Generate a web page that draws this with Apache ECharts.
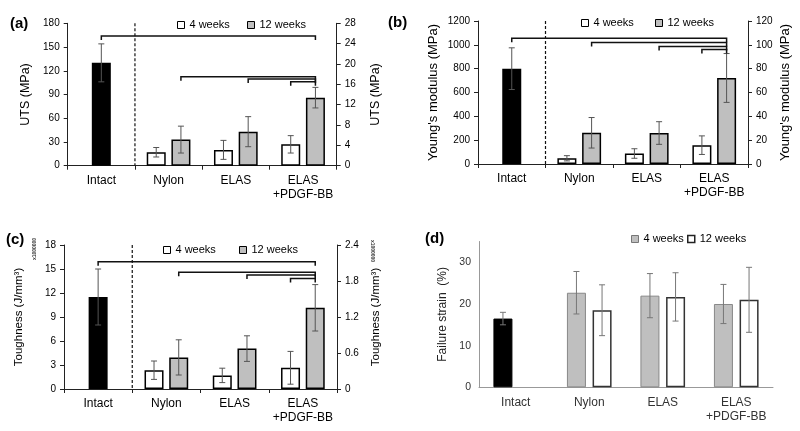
<!DOCTYPE html>
<html>
<head>
<meta charset="utf-8">
<script src="https://cdn.jsdelivr.net/npm/echarts@6/dist/echarts.min.js"></script>
<style>
  html, body { margin: 0; padding: 0; background: #fff; }
  #chart { width: 800px; height: 431px; }
</style>
</head>
<body>
<div id="chart"></div>
<script>
const categories = ['Intact', 'Nylon', 'ELAS', 'ELAS\n+PDGF-BB'];

// (a) UTS
const utsIntact = [130, '-', '-', '-'];
const utsIntactSd = [24, 0, 0, 0];
const uts4 = ['-', 17, 20, 27];
const uts4Sd = [0, 6, 12, 11];
const uts12 = ['-', 33, 43, 86];
const uts12Sd = [0, 17, 19, 13];
const utsTicks = [0, 30, 60, 90, 120, 150, 180];
const utsRightTicks = [0, 4, 8, 12, 16, 20, 24, 28];
// [fromCategory, fromSlot, toCategory, toSlot, height]
const utsBrackets = [[0, 0, 3, 1, 164], [1, 1, 3, 1, 112.5], [2, 1, 3, 1, 109.5], [3, -1, 3, 1, 106]];

// (b) Young's modulus
const ymIntact = [800, '-', '-', '-'];
const ymIntactSd = [175, 0, 0, 0];
const ym4 = ['-', 48, 88, 158];
const ym4Sd = [0, 22, 40, 78];
const ym12 = ['-', 262, 260, 722];
const ym12Sd = [0, 128, 95, 205];
const ymTicks = [0, 200, 400, 600, 800, 1000, 1200];
const ymRightTicks = [0, 20, 40, 60, 80, 100, 120];
const ymBrackets = [[0, 0, 3, 1, 1055], [1, 1, 3, 1, 1020], [2, 1, 3, 1, 985], [3, -1, 3, 1, 960]];

// (c) Toughness
const tgIntact = [11.5, '-', '-', '-'];
const tgIntactSd = [3.5, 0, 0, 0];
const tg4 = ['-', 2.35, 1.7, 2.65];
const tg4Sd = [0, 1.15, 0.9, 2.05];
const tg12 = ['-', 3.95, 5.05, 10.15];
const tg12Sd = [0, 2.2, 1.6, 2.9];
const tgTicks = [0, 3, 6, 9, 12, 15, 18];
const tgRightTicks = [0, 0.6, 1.2, 1.8, 2.4];
const tgBrackets = [[0, 0, 3, 1, 15.9], [1, 1, 3, 1, 14.6], [2, 1, 3, 1, 14.25], [3, -1, 3, 1, 13.8]];

// (d) Failure strain
const fsIntact = [16.5];
const fsIntactSd = [1.5];
const fs4 = ['-', 22.7, 22, 20];
const fs4Sd = [0, 5.1, 5.3, 4.7];
const fs12 = ['-', 18.5, 21.7, 21];
const fs12Sd = [0, 6.1, 5.8, 7.8];
const fsTicks = [0, 10, 20, 30];
const fsMax = 35;

const FONT = '"Liberation Sans", Arial, sans-serif';
const GRAY = '#bfbfbf';

const option = {
  animation: false,
  backgroundColor: '#fff',
  textStyle: { fontFamily: FONT },
  grid: [], xAxis: [], yAxis: [], series: [], legend: [], title: [], graphic: []
};

function errData(vals, sds, slot) {
  let out = [];
  vals.forEach((v, i) => {
    if (v !== '-') out.push([i, v, sds[i], slot]);
  });
  return out;
}

function errorSeries(xIdx, yIdx, data, offset, color) {
  return {
    type: 'custom', xAxisIndex: xIdx, yAxisIndex: yIdx, z: 5, silent: true,
    data: data,
    renderItem(params, api) {
      let i = api.value(0), v = api.value(1), sd = api.value(2), slot = api.value(3);
      let x = api.coord([i, v])[0] + slot * offset;
      let yt = api.coord([i, v + sd])[1];
      let yb = api.coord([i, v - sd])[1];
      let st = { stroke: color, lineWidth: 1 };
      return {
        type: 'group',
        children: [
          { type: 'line', shape: { x1: x, y1: yt, x2: x, y2: yb }, style: st },
          { type: 'line', shape: { x1: x - 3, y1: yt, x2: x + 3, y2: yt }, style: st },
          { type: 'line', shape: { x1: x - 3, y1: yb, x2: x + 3, y2: yb }, style: st }
        ]
      };
    }
  };
}

function bracketSeries(xIdx, yIdx, data, offset) {
  return {
    type: 'custom', xAxisIndex: xIdx, yAxisIndex: yIdx, z: 6, silent: true,
    data: data,
    renderItem(params, api) {
      let h = api.value(4);
      let p1 = api.coord([api.value(0), h]);
      let p2 = api.coord([api.value(2), h]);
      let x1 = p1[0] + api.value(1) * offset;
      let x2 = p2[0] + api.value(3) * offset;
      let y = p1[1];
      return {
        type: 'polyline',
        shape: { points: [[x1, y + 4], [x1, y], [x2, y], [x2, y + 4]] },
        style: { stroke: '#111', lineWidth: 1.5, fill: null }
      };
    }
  };
}

function dividerSeries(xIdx, yIdx) {
  return {
    type: 'custom', xAxisIndex: xIdx, yAxisIndex: yIdx, z: 4, silent: true,
    data: [[0, 0]],
    renderItem(params, api) {
      let cs = params.coordSys;
      let x = (api.coord([0, 0])[0] + api.coord([1, 0])[0]) / 2;
      return {
        type: 'line',
        shape: { x1: x, y1: cs.y, x2: x, y2: cs.y + cs.height },
        style: { stroke: '#111', lineWidth: 1.2, lineDash: [3, 2] }
      };
    }
  };
}

const plain = v => String(v);

function valueAxis(g, ticks, pos, name, nameGap, nameSize, fmt, color, showTicks) {
  return {
    type: 'value', gridIndex: g, position: pos,
    min: ticks[0], max: ticks[ticks.length - 1], interval: ticks[1] - ticks[0],
    splitLine: { show: false },
    axisLine: { show: true, lineStyle: { color: color, width: 1 } },
    axisTick: { show: showTicks, length: 4, lineStyle: { color: color } },
    axisLabel: { fontSize: 10, margin: 8, color: '#000', formatter: fmt || plain },
    name: name, nameLocation: 'middle', nameRotate: 90, nameGap: nameGap,
    nameTextStyle: { fontSize: nameSize, color: '#000' }
  };
}

function legendItem(left, top, name, style) {
  option.legend.push({
    left: left, top: top, padding: 0, itemWidth: 7, itemHeight: 7,
    selectedMode: false,
    textStyle: { fontSize: 11, color: '#000' },
    data: [{ name: name, icon: 'rect', itemStyle: style }]
  });
}

const whiteStyle = { color: '#fff', borderColor: '#000', borderWidth: 1.5 };
const grayStyle = { color: GRAY, borderColor: '#000', borderWidth: 1.5 };

// panels (a)-(c) share the same layout
function addPanel(c) {
  let g = option.grid.length;
  option.grid.push(c.rect);
  let xMain = option.xAxis.length;
  option.xAxis.push({
    type: 'category', gridIndex: g, data: categories,
    axisLine: { lineStyle: { color: '#222' } },
    axisTick: { show: true, alignWithLabel: false, interval: 0, length: 4, lineStyle: { color: '#222' } },
    axisLabel: { interval: 0, fontSize: 12, lineHeight: 14, color: '#000', margin: 8 }
  });
  let xIntact = option.xAxis.length;
  option.xAxis.push({ type: 'category', gridIndex: g, data: categories, show: false });
  let yL = option.yAxis.length;
  option.yAxis.push(valueAxis(g, c.ticks, 'left', c.name, c.gapL, c.nameSize, null, '#222', true));
  option.yAxis.push(valueAxis(g, c.rightTicks, 'right', c.name, c.gapR, c.nameSize, c.rightFmt, '#222', true));

  const off = 12.35;
  option.series.push(
    { type: 'bar', xAxisIndex: xIntact, yAxisIndex: yL, data: c.intact, barWidth: 19,
      itemStyle: { color: '#000' }, silent: true },
    { type: 'bar', name: '4 weeks', xAxisIndex: xMain, yAxisIndex: yL, data: c.w4, barWidth: 19,
      barGap: '30%', itemStyle: whiteStyle, silent: true },
    { type: 'bar', name: '12 weeks', xAxisIndex: xMain, yAxisIndex: yL, data: c.w12, barWidth: 19,
      barGap: '30%', itemStyle: grayStyle, silent: true },
    errorSeries(xMain, yL,
      errData(c.intact, c.intactSd, 0).concat(errData(c.w4, c.w4Sd, -1), errData(c.w12, c.w12Sd, 1)),
      off, '#555'),
    bracketSeries(xMain, yL, c.brackets, off),
    dividerSeries(xMain, yL)
  );
  legendItem(c.leg[0], c.leg[2], '4 weeks', { color: '#fff', borderColor: '#000', borderWidth: 1 });
  legendItem(c.leg[1], c.leg[2], '12 weeks', { color: GRAY, borderColor: '#000', borderWidth: 1 });
  option.title.push({ text: c.label, left: c.labelPos[0], top: c.labelPos[1], padding: 0,
    textStyle: { fontSize: 15, fontWeight: 'bold', color: '#000' } });
}

addPanel({
  rect: { left: 67.7, top: 23.3, width: 269, height: 142.4 },
  ticks: utsTicks, rightTicks: utsRightTicks, name: 'UTS (MPa)', gapL: 36, gapR: 32, nameSize: 12.5,
  intact: utsIntact, intactSd: utsIntactSd, w4: uts4, w4Sd: uts4Sd, w12: uts12, w12Sd: uts12Sd,
  brackets: utsBrackets, leg: [177, 247, 19.5], label: '(a)', labelPos: [10, 16]
});
addPanel({
  rect: { left: 478, top: 21, width: 270, height: 143 },
  ticks: ymTicks, rightTicks: ymRightTicks, name: "Young's modulus (MPa)", gapL: 38, gapR: 31, nameSize: 13,
  intact: ymIntact, intactSd: ymIntactSd, w4: ym4, w4Sd: ym4Sd, w12: ym12, w12Sd: ym12Sd,
  brackets: ymBrackets, leg: [581, 655, 17.5], label: '(b)', labelPos: [388, 15.5]
});
addPanel({
  rect: { left: 64, top: 245, width: 273, height: 144 },
  ticks: tgTicks, rightTicks: tgRightTicks, name: 'Toughness (J/mm³)', gapL: 39, gapR: 33, nameSize: 11.5,
  rightFmt: v => (v === 0 ? '0' : v.toFixed(1)),
  intact: tgIntact, intactSd: tgIntactSd, w4: tg4, w4Sd: tg4Sd, w12: tg12, w12Sd: tg12Sd,
  brackets: tgBrackets, leg: [163, 239, 244.5], label: '(c)', labelPos: [6, 232.5]
});

// (d) failure strain
(function () {
  let g = option.grid.length;
  option.grid.push({ left: 479, top: 241.5, width: 294, height: 145.8 });
  let x = option.xAxis.length;
  option.xAxis.push({
    type: 'category', gridIndex: g, data: categories,
    axisLine: { lineStyle: { color: '#999' } },
    axisTick: { show: false },
    axisLabel: { interval: 0, fontSize: 12, lineHeight: 14, color: '#333', margin: 8 }
  });
  let y = option.yAxis.length;
  option.yAxis.push({
    type: 'value', gridIndex: g, min: fsTicks[0], max: fsMax, interval: fsTicks[1] - fsTicks[0],
    splitLine: { show: false },
    axisLine: { show: true, lineStyle: { color: '#999' } },
    axisTick: { show: false },
    axisLabel: { fontSize: 10.5, margin: 8, color: '#333', showMaxLabel: false },
    name: 'Failure strain  (%)', nameLocation: 'middle', nameRotate: 90, nameGap: 30,
    nameTextStyle: { fontSize: 12, color: '#222' }
  });
  let d4 = fs4.slice();
  d4[0] = { value: fsIntact[0], itemStyle: { color: '#000', borderColor: '#000' } };
  option.series.push(
    { type: 'bar', name: '4 weeks', xAxisIndex: x, yAxisIndex: y, data: d4, barWidth: 19, barGap: '35%',
      itemStyle: { color: GRAY, borderColor: '#888', borderWidth: 1 }, silent: true },
    { type: 'bar', name: '12 weeks', xAxisIndex: x, yAxisIndex: y, data: fs12, barWidth: 19, barGap: '35%',
      itemStyle: { color: '#fff', borderColor: '#333', borderWidth: 1.5 }, silent: true },
    errorSeries(x, y,
      [[0, fsIntact[0], fsIntactSd[0], -1]].concat(errData(fs4, fs4Sd, -1), errData(fs12, fs12Sd, 1)),
      12.8, '#777')
  );
  legendItem(631, 233.5, '4 weeks', { color: GRAY, borderColor: '#777', borderWidth: 1 });
  legendItem(687, 233.5, '12 weeks', { color: '#fff', borderColor: '#222', borderWidth: 1.5 });
  option.title.push({ text: '(d)', left: 425, top: 231.5, padding: 0,
    textStyle: { fontSize: 15, fontWeight: 'bold', color: '#000' } });
})();

// tiny multiplier notes on the toughness axes
option.graphic.push(
  { type: 'text', x: 35, y: 249, rotation: Math.PI / 2,
    style: { text: 'x1000000', font: 'bold 5px ' + FONT, fill: '#333', align: 'center', verticalAlign: 'middle' } },
  { type: 'text', x: 372, y: 251, rotation: -Math.PI / 2,
    style: { text: 'x1000000', font: 'bold 5px ' + FONT, fill: '#333', align: 'center', verticalAlign: 'middle' } }
);

let myChart = echarts.init(document.getElementById('chart'));
myChart.setOption(option);
</script>
</body>
</html>
